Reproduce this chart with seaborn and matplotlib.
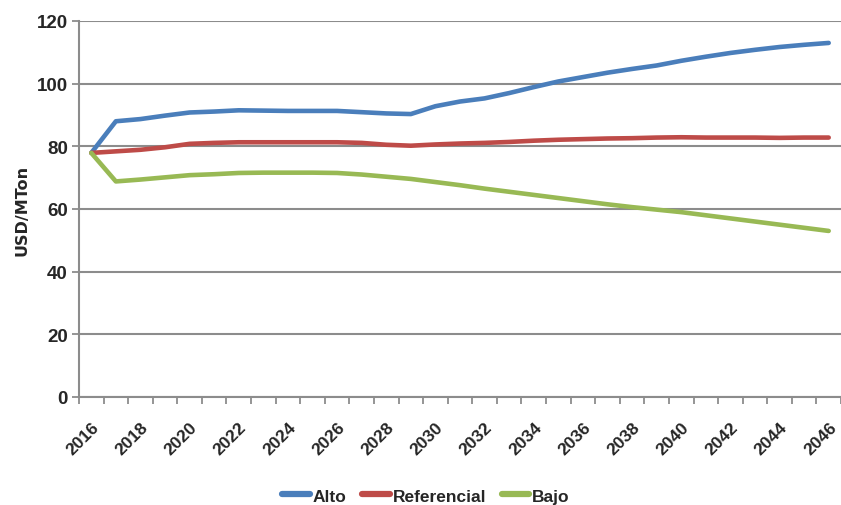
import numpy as np
import pandas as pd
import matplotlib
matplotlib.use("Agg")
import matplotlib.pyplot as plt
from matplotlib import font_manager
import seaborn as sns

# Price scenarios, USD per metric ton, 2016-2046
years = list(range(2016, 2047))
alto = [77.9, 88.0, 88.7, 89.8, 90.8, 91.1, 91.5, 91.4, 91.3, 91.3, 91.3,
        90.9, 90.5, 90.3, 92.8, 94.3, 95.3, 97.0, 98.9, 100.7, 102.1,
        103.5, 104.7, 105.8, 107.3, 108.6, 109.8, 110.8, 111.7, 112.4, 113.0]
referencial = [77.9, 78.4, 78.9, 79.7, 80.8, 81.1, 81.3, 81.3, 81.3, 81.3,
               81.3, 81.1, 80.5, 80.2, 80.6, 80.9, 81.1, 81.4, 81.8, 82.1,
               82.3, 82.5, 82.6, 82.8, 82.9, 82.8, 82.8, 82.8, 82.7, 82.8, 82.8]
bajo = [77.9, 68.8, 69.4, 70.1, 70.8, 71.1, 71.5, 71.6, 71.6, 71.6, 71.5,
        71.0, 70.3, 69.6, 68.6, 67.6, 66.5, 65.5, 64.5, 63.5, 62.5, 61.5,
        60.6, 59.8, 59.0, 58.0, 57.0, 56.0, 55.0, 54.0, 53.0]
series_names = ["Alto", "Referencial", "Bajo"]
series_colors = ["#4A7EBB", "#BE4B48", "#98B954"]
y_ticks = [0, 20, 40, 60, 80, 100, 120]

df = pd.DataFrame({
    "pos": list(range(len(years))) * 3,
    "value": alto + referencial + bajo,
    "serie": [n for n in series_names for _ in years],
})

sns.set_theme(style="white")
available = {f.name for f in font_manager.fontManager.ttflist}
narrow = "Liberation Sans Narrow" if "Liberation Sans Narrow" in available else "Liberation Sans"
plt.rcParams["font.family"] = [narrow, "DejaVu Sans"]

fig = plt.figure(figsize=(8.41, 5.06), dpi=100)
ax = fig.add_axes([79 / 841, 1 - 398 / 506, 1 - 79 / 841, (398 - 22) / 506])

ax.set_axisbelow(True)
ax.yaxis.grid(True, color="#8C8C8C", linewidth=1.5)
ax.xaxis.grid(False)

sns.lineplot(data=df, x="pos", y="value", hue="serie", hue_order=series_names,
             palette=series_colors, linewidth=3.3, ax=ax, legend=False,
             solid_capstyle="round", zorder=3)

ax.set_xlim(-0.5, len(years) - 0.5)
ax.set_ylim(0, 120)
ax.set_yticks(y_ticks)
ax.set_yticklabels([str(v) for v in y_ticks], fontsize=13.5, fontweight="bold")

# category labels every two years, tick marks on category boundaries
label_pos = list(range(0, len(years), 2))
ax.set_xticks(label_pos)
ax.set_xticklabels([str(years[i]) for i in label_pos], rotation=45, ha="right",
                   va="top", rotation_mode="anchor", fontsize=12.5, fontweight="bold")
ax.set_xticks(np.arange(-0.5, len(years), 1.0), minor=True)
ax.tick_params(axis="x", which="major", length=0, pad=16)
ax.tick_params(axis="x", which="minor", length=5, width=1.3, color="#8C8C8C",
               direction="out", bottom=True)
ax.tick_params(axis="y", which="major", length=5, width=1.3, color="#8C8C8C",
               direction="out", left=True, pad=3)

ax.set_xlabel("")
ax.set_ylabel("USD/MTon", fontsize=11.5, fontweight="bold",
              family=["DejaVu Sans"], labelpad=5)

for side in ["top", "right"]:
    ax.spines[side].set_visible(False)
for side in ["left", "bottom"]:
    ax.spines[side].set_color("#8C8C8C")
    ax.spines[side].set_linewidth(1.5)

handles = [plt.Line2D([], [], color=c, linewidth=4.5, solid_capstyle="round")
           for c in series_colors]
fig.legend(handles, series_names, loc="center", bbox_to_anchor=(426 / 841, 1 - 497 / 506),
           ncol=3, frameon=False, handlelength=1.6, handletextpad=0.15,
           columnspacing=0.9, prop={"weight": "bold", "size": 12.5})

fig.savefig("out.png", dpi=100)
